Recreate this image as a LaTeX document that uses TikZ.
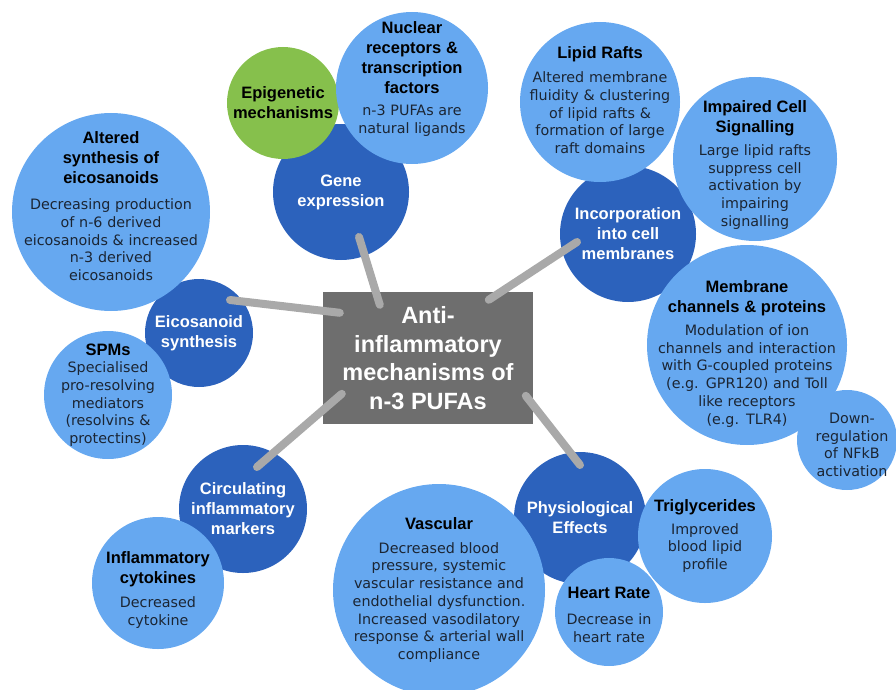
\documentclass[tikz,border=0pt]{standalone}
\usepackage{fontspec}
\setmainfont{DejaVu Sans}
\newfontfamily\headfont{Liberation Sans}
\usetikzlibrary{calc}

\definecolor{palebub}{HTML}{66A8F0}
\definecolor{deepbub}{HTML}{2C62BC}
\definecolor{greenbub}{HTML}{86C04C}
\definecolor{hubgray}{HTML}{6E6E6E}
\definecolor{linkgray}{HTML}{A9A9A9}
\definecolor{bodyink}{HTML}{1B2533}

\newcommand\headtxt{\headfont\bfseries\fontsize{16.5}{20}\selectfont\color{black}}
\newcommand\bodytxt{\fontsize{14.3}{17.7}\selectfont}

\tikzset{
  bubble/.style={circle, inner sep=0pt, minimum size=#1},
  pale bubble/.style={bubble=#1, fill=palebub},
  deep bubble/.style={bubble=#1, fill=deepbub},
  green bubble/.style={bubble=#1, fill=greenbub},
  pale text/.style={text width=210pt, align=center, inner sep=0pt, text=bodyink, font=\bodytxt},
  deep text/.style={align=center, inner sep=0pt, text=white, font=\headfont\bfseries\fontsize{16.5}{20}\selectfont},
  hub/.style={rectangle, fill=hubgray, minimum width=210pt, minimum height=132pt, inner sep=2pt,
    align=center, text=white, font=\headfont\bfseries\fontsize{23.5}{28.5}\selectfont},
  link/.style={draw=linkgray, line width=8pt, line cap=round}
}

\begin{document}
\begin{tikzpicture}[x=1pt, y=-1pt]
  \clip (0,0) rectangle (896,690);

  % branch circles
  \node[deep bubble=136pt]  (gene)  at (341,192) {};
  \node[deep bubble=108pt]  (eico)  at (199,333) {};
  \node[deep bubble=136pt]  (memb)  at (628,234) {};
  \node[deep bubble=128pt]  (circ)  at (243,509) {};
  \node[deep bubble=132pt]  (phys)  at (580,518) {};
  \node[green bubble=112pt] (epi)   at (283,103) {};

  % leaf circles
  \node[pale bubble=152pt] (nuc)   at (412,88)  {};
  \node[pale bubble=198pt] (alt)   at (111,212) {};
  \node[pale bubble=128pt] (spm)   at (108,395) {};
  \node[pale bubble=160pt] (lipid) at (600,102) {};
  \node[pale bubble=164pt] (sig)   at (755,159) {};
  \node[pale bubble=200pt] (chan)  at (747,345) {};
  \node[pale bubble=100pt] (nfkb)  at (847,440) {};
  \node[pale bubble=132pt] (cyto)  at (158,583) {};
  \node[pale bubble=212pt] (vasc)  at (439,590) {};
  \node[pale bubble=134pt] (trig)  at (705,536) {};
  \node[pale bubble=108pt] (heart) at (609,612) {};

  % centre
  \node[hub] (hub) at (428,358) {Anti-\\inflammatory\\mechanisms of\\n-3 PUFAs};

  \draw[link] ($(hub.north west)+(57,13)$)  -- ($(gene)+(18,45)$);
  \draw[link] ($(hub.north west)+(166,8)$)  -- ($(memb)+(-51,8)$);
  \draw[link] ($(hub.north west)+(17,21)$)  -- ($(eico)+(31,-33)$);
  \draw[link] ($(hub.north west)+(19,102)$) -- ($(circ)+(14,-42)$);
  \draw[link] ($(hub.north west)+(203,104)$) -- ($(phys)+(0,-53)$);

  % labels
  \node[deep text] (gene-t) at (gene) {Gene\\expression};
  \node[deep text] (eico-t) at (eico) {Eicosanoid\\synthesis};
  \node[deep text] (memb-t) at (memb) {Incorporation\\into cell\\membranes};
  \node[deep text] (circ-t) at (circ) {Circulating\\inflammatory\\markers};
  \node[deep text] (phys-t) at (phys) {Physiological\\Effects};
  \node[deep text, text=black] (epi-t) at (epi) {Epigenetic\\mechanisms};

  \node[pale text, yshift=9pt] (nuc-t) at (nuc)
    {{\headtxt Nuclear\\receptors \&\\transcription\\factors\par}\vspace{5pt}n-3 PUFAs are\\natural ligands};
  \node[pale text, yshift=6pt] (alt-t) at (alt)
    {{\headtxt Altered\\synthesis of\\eicosanoids\par}\vspace{9pt}Decreasing production\\of n-6 derived\\eicosanoids \& increased\\n-3 derived\\eicosanoids};
  \node[pale text] (spm-t) at (spm)
    {{\headtxt SPMs\par}Specialised\\pro-resolving\\mediators\\(resolvins \&\\protectins)};
  \node[pale text, yshift=2pt] (lipid-t) at (lipid)
    {{\headtxt Lipid Rafts\par}\vspace{7pt}Altered membrane\\fluidity \& clustering\\of lipid rafts \&\\formation of large\\raft domains};
  \node[pale text, yshift=-6pt] (sig-t) at (sig)
    {{\headtxt Impaired Cell\\Signalling\par}\vspace{5pt}Large lipid rafts\\suppress cell\\activation by\\impairing\\signalling};
  \node[pale text, yshift=-9pt] (chan-t) at (chan)
    {{\headtxt Membrane\\channels \& proteins\par}\vspace{5pt}Modulation of ion\\channels and interaction\\with G-coupled proteins\\(e.g. GPR120) and Toll\\like receptors\\(e.g. TLR4)};
  \node[pale text, xshift=5pt, yshift=-5pt] (nfkb-t) at (nfkb)
    {Down-\\regulation\\of NFkB\\activation};
  \node[pale text, yshift=-7pt] (cyto-t) at (cyto)
    {{\headtxt Inflammatory\\cytokines\par}\vspace{7pt}Decreased\\cytokine};
  \node[pale text] (vasc-t) at (vasc)
    {{\headtxt Vascular\par}\vspace{6pt}Decreased blood\\pressure, systemic\\vascular resistance and\\endothelial dysfunction.\\Increased vasodilatory\\response \& arterial wall\\compliance};
  \node[pale text] (trig-t) at (trig)
    {{\headtxt Triglycerides\par}\vspace{5pt}Improved\\blood lipid\\profile};
  \node[pale text, yshift=-3pt] (heart-t) at (heart)
    {{\headtxt Heart Rate\par}\vspace{8pt}Decrease in\\heart rate};
\end{tikzpicture}
\end{document}
